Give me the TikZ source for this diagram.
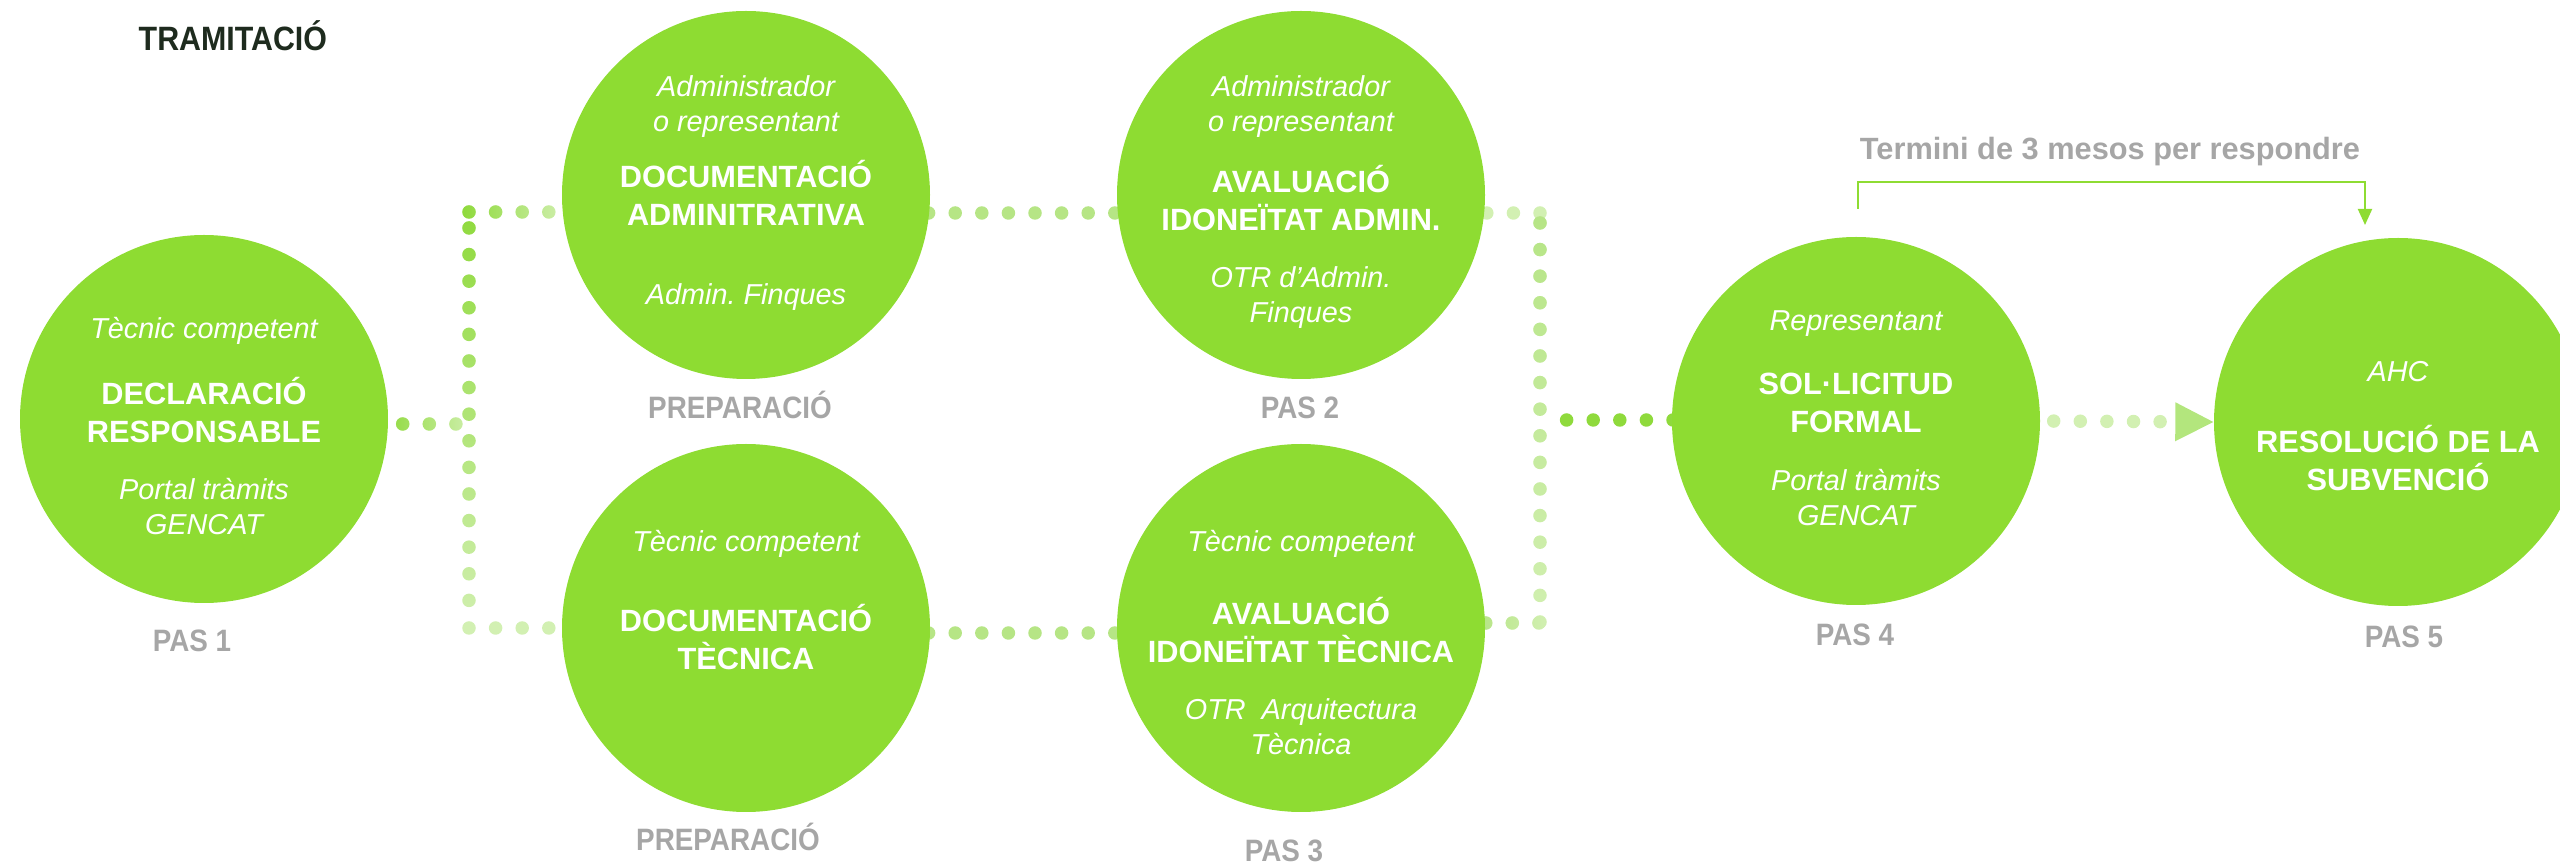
\documentclass[tikz,border=0pt]{standalone}
\usepackage{fontspec}
\setmainfont{Liberation Sans}
\newfontfamily\narrowfont{Liberation Sans}[FakeStretch=0.9]
\usetikzlibrary{positioning,calc,arrows.meta,fadings,backgrounds}

\definecolor{stepgreen}{HTML}{8EDC32}
\definecolor{dotstrong}{HTML}{8FDA3C}
\definecolor{dotmid}{HTML}{B6E585}
\definecolor{dotpale}{HTML}{D2F0B2}
\definecolor{tipgreen}{HTML}{B3E67D}
\definecolor{labelgray}{HTML}{A6A6A6}
\definecolor{titledark}{HTML}{1E2B1E}

\tikzfading[name=dotseast, left color=transparent!0, right color=transparent!100]
\tikzfading[name=dotssouth, top color=transparent!0, bottom color=transparent!100]

\begin{document}
\begin{tikzpicture}[
    x=0.1mm, y=-0.1mm,
    stepcircle/.style={circle, fill=stepgreen, minimum size=36.8mm, inner sep=0pt},
    role/.style={text=white, align=center, font=\fontsize{8.2}{9.96}\selectfont\itshape},
    stage/.style={text=white, align=center, font=\fontsize{8.75}{10.8}\selectfont\bfseries},
    steplabel/.style={text=labelgray, font=\narrowfont\fontsize{8.8}{10}\selectfont\bfseries},
    dots/.style={line width=1.35mm, line cap=round, dash pattern=on 0pt off 2.66mm, draw=#1},
    fadedots/.style 2 args={dots=dotpale, postaction={dots=#1, path fading=#2, fit fading=true}},
    arrow/.style={-{Triangle[length=1.6mm, width=1.4mm]}, draw=stepgreen, line width=0.2mm}
]
    \useasboundingbox (0,0) rectangle (2560,866);

    \node [text=titledark, font=\narrowfont\fontsize{9.6}{11}\selectfont\bfseries, anchor=west, inner sep=0pt] (title) at (138,36) {TRAMITACIÓ};

    % steps
    \node [stepcircle] (decl) at (204,419) {};
    \node [stepcircle] (docadm) at (746,195) {};
    \node [stepcircle] (doctec) at (746,628) {};
    \node [stepcircle] (avaladm) at (1301,195) {};
    \node [stepcircle] (avaltec) at (1301,628) {};
    \node [stepcircle] (sollicitud) at (1856,421) {};
    \node [stepcircle] (resolucio) at (2398,422) {};

    \node [role] (decl-role) at (204,331) {Tècnic competent};
    \node [stage] (decl-stage) at (204,410) {DECLARACIÓ\\RESPONSABLE};
    \node [role] (decl-place) at (204,507) {Portal tràmits\\GENCAT};

    \node [role] (docadm-role) at (746,107) {Administrador\\o representant};
    \node [stage] (docadm-stage) at (746,193) {DOCUMENTACIÓ\\ADMINITRATIVA};
    \node [role] (docadm-place) at (746,297) {Admin.\ Finques};

    \node [role] (avaladm-role) at (1301,107) {Administrador\\o representant};
    \node [stage] (avaladm-stage) at (1301,198) {AVALUACIÓ\\IDONEÏTAT ADMIN.};
    \node [role] (avaladm-place) at (1301,298) {OTR d’Admin.\\Finques};

    \node [role] (doctec-role) at (746,544) {Tècnic competent};
    \node [stage] (doctec-stage) at (746,637) {DOCUMENTACIÓ\\TÈCNICA};

    \node [role] (avaltec-role) at (1301,544) {Tècnic competent};
    \node [stage] (avaltec-stage) at (1301,630) {AVALUACIÓ\\IDONEÏTAT TÈCNICA};
    \node [role] (avaltec-place) at (1301,727) {OTR~ Arquitectura\\Tècnica};

    \node [role] (sollicitud-role) at (1856,324) {Representant};
    \node [stage] (sollicitud-stage) at (1856,403) {SOL·LICITUD\\FORMAL};
    \node [role] (sollicitud-place) at (1856,498) {Portal tràmits\\GENCAT};

    \node [role] (resolucio-role) at (2398,372) {AHC};
    \node [stage] (resolucio-stage) at (2398,458) {RESOLUCIÓ DE LA\\SUBVENCIÓ};

    % labels
    \node [steplabel] (pas1) at (192,641) {PAS 1};
    \node [steplabel] (prep-top) at (740,405) {PREPARACIÓ};
    \node [steplabel] (pas2) at (1300,408) {PAS 2};
    \node [steplabel] (prep-bot) at (728,837) {PREPARACIÓ};
    \node [steplabel] (pas3) at (1284,851) {PAS 3};
    \node [steplabel] (pas4) at (1855,635) {PAS 4};
    \node [steplabel] (pas5) at (2404,637) {PAS 5};

    \node [text=labelgray, font=\fontsize{8.75}{10}\selectfont\bfseries] (termini) at (2110,152) {Termini de 3 mesos per respondre};
    \coordinate (termini-a) at (1858,209);
    \coordinate (termini-b) at (2365,225);
    \draw [arrow] (termini-a) -- ++(0,-27) -| (termini-b);

    % dotted connectors
    \coordinate (jl-top) at (469,212);
    \coordinate (jl-mid) at (469,424);
    \coordinate (jl-bot) at (469,628);
    \coordinate (jr-top) at (1540,213);
    \coordinate (jr-mid) at (1540,420);
    \coordinate (jr-bot) at (1540,623);

    \begin{scope}[on background layer]
    \draw [fadedots={dotstrong}{dotseast}, shorten <=1.4mm] (decl.east |- jl-mid) -- (jl-mid);
    \draw [fadedots={dotstrong}{dotseast}] (jl-top) -- (docadm.west |- jl-top);
    \draw [fadedots={dotstrong}{dotssouth}, shorten <=1.6mm, shorten >=2.5mm] (jl-top) -- (jl-bot);
    \draw [dots=dotpale] (jl-bot) -- (doctec.west |- jl-bot);
    \draw [dots=dotmid] (avaladm.center |- jr-top) -- (docadm.center |- jr-top);
    \draw [dots=dotmid] ($(avaltec.center)+(0,5)$) -- ($(doctec.center)+(0,5)$);
    \draw [dots=dotpale] (jr-top) -- (avaladm.center |- jr-top);
    \draw [fadedots={dotmid}{dotssouth}, shorten <=1mm] (jr-top) -- (jr-bot);
    \draw [fadedots={dotmid}{dotseast}] (avaltec.east |- jr-bot) -- (jr-bot);
    \draw [dots=dotstrong, shorten <=2.66mm] (jr-mid) -- (sollicitud.center |- jr-mid);
    \draw [dots=dotpale, shorten <=1.3mm, -{Triangle[length=3.8mm, width=3.9mm, line width=0pt, color=tipgreen]}] (sollicitud.east) -- (resolucio.west);
    \end{scope}
\end{tikzpicture}
\end{document}
